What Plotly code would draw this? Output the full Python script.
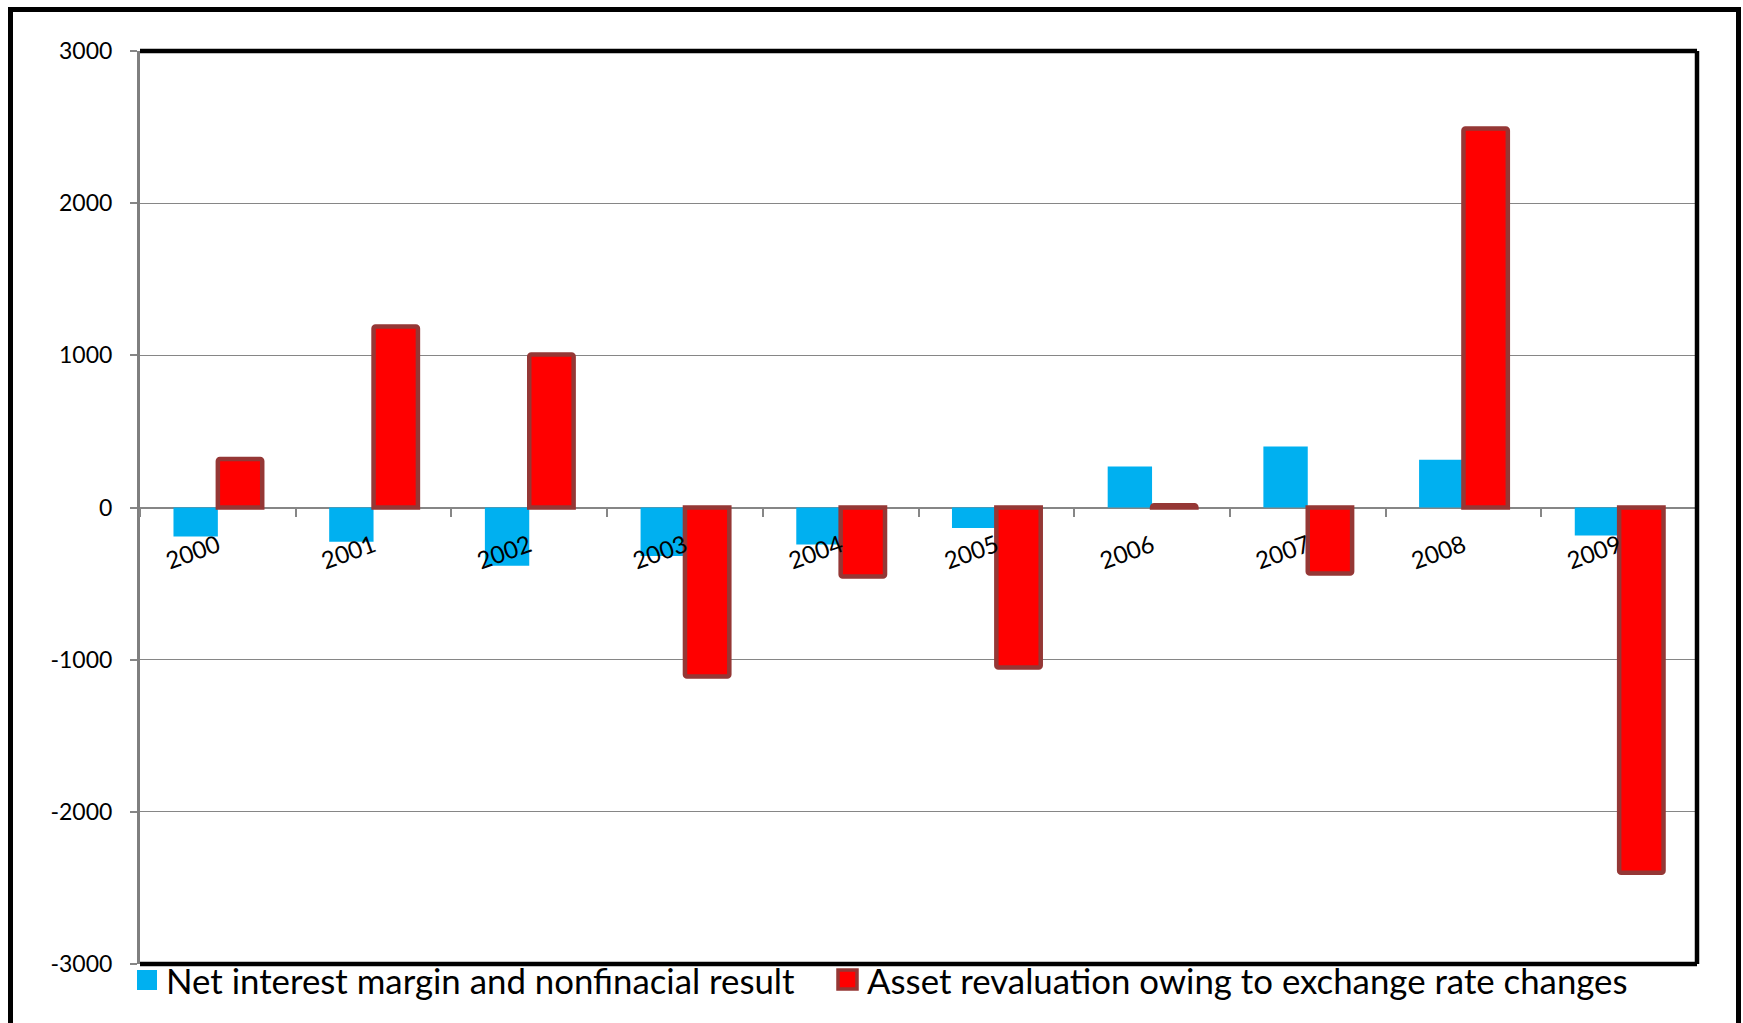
import plotly.graph_objects as go

# Annual values, 2000-2009
years = ["2000", "2001", "2002", "2003", "2004", "2005", "2006", "2007", "2008", "2009"]
net_interest = [-190, -225, -383, -318, -243, -134, 270, 401, 314, -184]
asset_reval = [318, 1190, 1005, -1110, -453, -1051, 15, -434, 2490, -2401]

series_names = [
    "Net interest margin and nonfinacial result",
    "Asset revaluation owing to exchange rate changes",
]
y_ticks = [-3000, -2000, -1000, 0, 1000, 2000, 3000]
y_tick_text = [str(v) for v in y_ticks]

W, H = 1743, 1023
ML, MR, MT, MB = 140, 46, 51, 59
PW, PH = W - ML - MR, H - MT - MB

FONT = "Lato, 'Open Sans', sans-serif"
BLUE = "#00B0F0"
RED = "#FF0000"
RED_EDGE = "#953735"
GRID = "#868686"


def px_x(p):
    return (p - ML) / PW


def px_y(p):
    return (MT + PH - p) / PH


fig = go.Figure()
fig.add_trace(go.Bar(
    x=years, y=net_interest, name=series_names[0],
    marker=dict(color=BLUE, line=dict(width=0)),
    showlegend=False,
))
fig.add_trace(go.Bar(
    x=years, y=asset_reval, name=series_names[1],
    marker=dict(color=RED, line=dict(color=RED_EDGE, width=4.5), cornerradius=2),
    showlegend=False,
))

shapes = [
    # outer chart border
    dict(type="rect", xref="paper", yref="paper",
         x0=px_x(10.5), x1=px_x(1738.5), y0=px_y(1045), y1=px_y(9.5),
         line=dict(color="black", width=5), layer="above"),
    # plot area border: top, right, bottom
    dict(type="line", xref="paper", yref="paper", x0=0, x1=1, y0=1, y1=1,
         line=dict(color="black", width=4.5), layer="above"),
    dict(type="line", xref="paper", yref="paper", x0=1, x1=1, y0=0, y1=1,
         line=dict(color="black", width=4.5), layer="above"),
    dict(type="line", xref="paper", yref="paper", x0=0, x1=1, y0=0, y1=0,
         line=dict(color="black", width=4.5), layer="above"),
    # legend swatches
    dict(type="rect", xref="paper", yref="paper",
         x0=px_x(137), x1=px_x(157), y0=px_y(990), y1=px_y(970),
         fillcolor=BLUE, line=dict(width=0), layer="above"),
    dict(type="rect", xref="paper", yref="paper",
         x0=px_x(838), x1=px_x(857), y0=px_y(989), y1=px_y(970),
         fillcolor=RED, line=dict(color=RED_EDGE, width=3.5), layer="above"),
]

annotations = [
    dict(text=series_names[0], xref="paper", yref="paper",
         x=px_x(164), y=px_y(980), xanchor="left", yanchor="middle",
         showarrow=False, font=dict(family=FONT, size=34.8, color="black")),
    dict(text=series_names[1], xref="paper", yref="paper",
         x=px_x(865), y=px_y(980), xanchor="left", yanchor="middle",
         showarrow=False, font=dict(family=FONT, size=34.8, color="black")),
]

fig.update_layout(
    width=W, height=H,
    margin=dict(l=ML, r=MR, t=MT, b=MB, pad=0),
    paper_bgcolor="white", plot_bgcolor="white",
    barmode="group", bargap=0.43, bargroupgap=0,
    font=dict(family=FONT, size=23, color="black"),
    shapes=shapes, annotations=annotations,
    showlegend=False,
    xaxis=dict(
        type="category", anchor="free", position=0.5,
        showline=False,
        ticks="outside", tickson="boundaries", ticklen=8,
        tickcolor=GRID, tickwidth=1.5,
        tickangle=-20, showgrid=False, zeroline=False,
        ticklabelstandoff=19,
        layer="above traces",
        tickfont=dict(family=FONT, size=24, color="black"),
    ),
    yaxis=dict(
        range=[-3000, 3000], tickvals=y_ticks, ticktext=y_tick_text,
        showgrid=True, gridcolor=GRID, gridwidth=1.3,
        zeroline=True, zerolinecolor=GRID, zerolinewidth=2,
        showline=True, linecolor="#7f7f7f", linewidth=3,
        ticks="outside", ticklen=7, tickcolor=GRID, tickwidth=1.5,
        ticklabelstandoff=13,
        layer="below traces",
        tickfont=dict(family=FONT, size=23, color="black"),
    ),
)

fig.write_html("out.html")
